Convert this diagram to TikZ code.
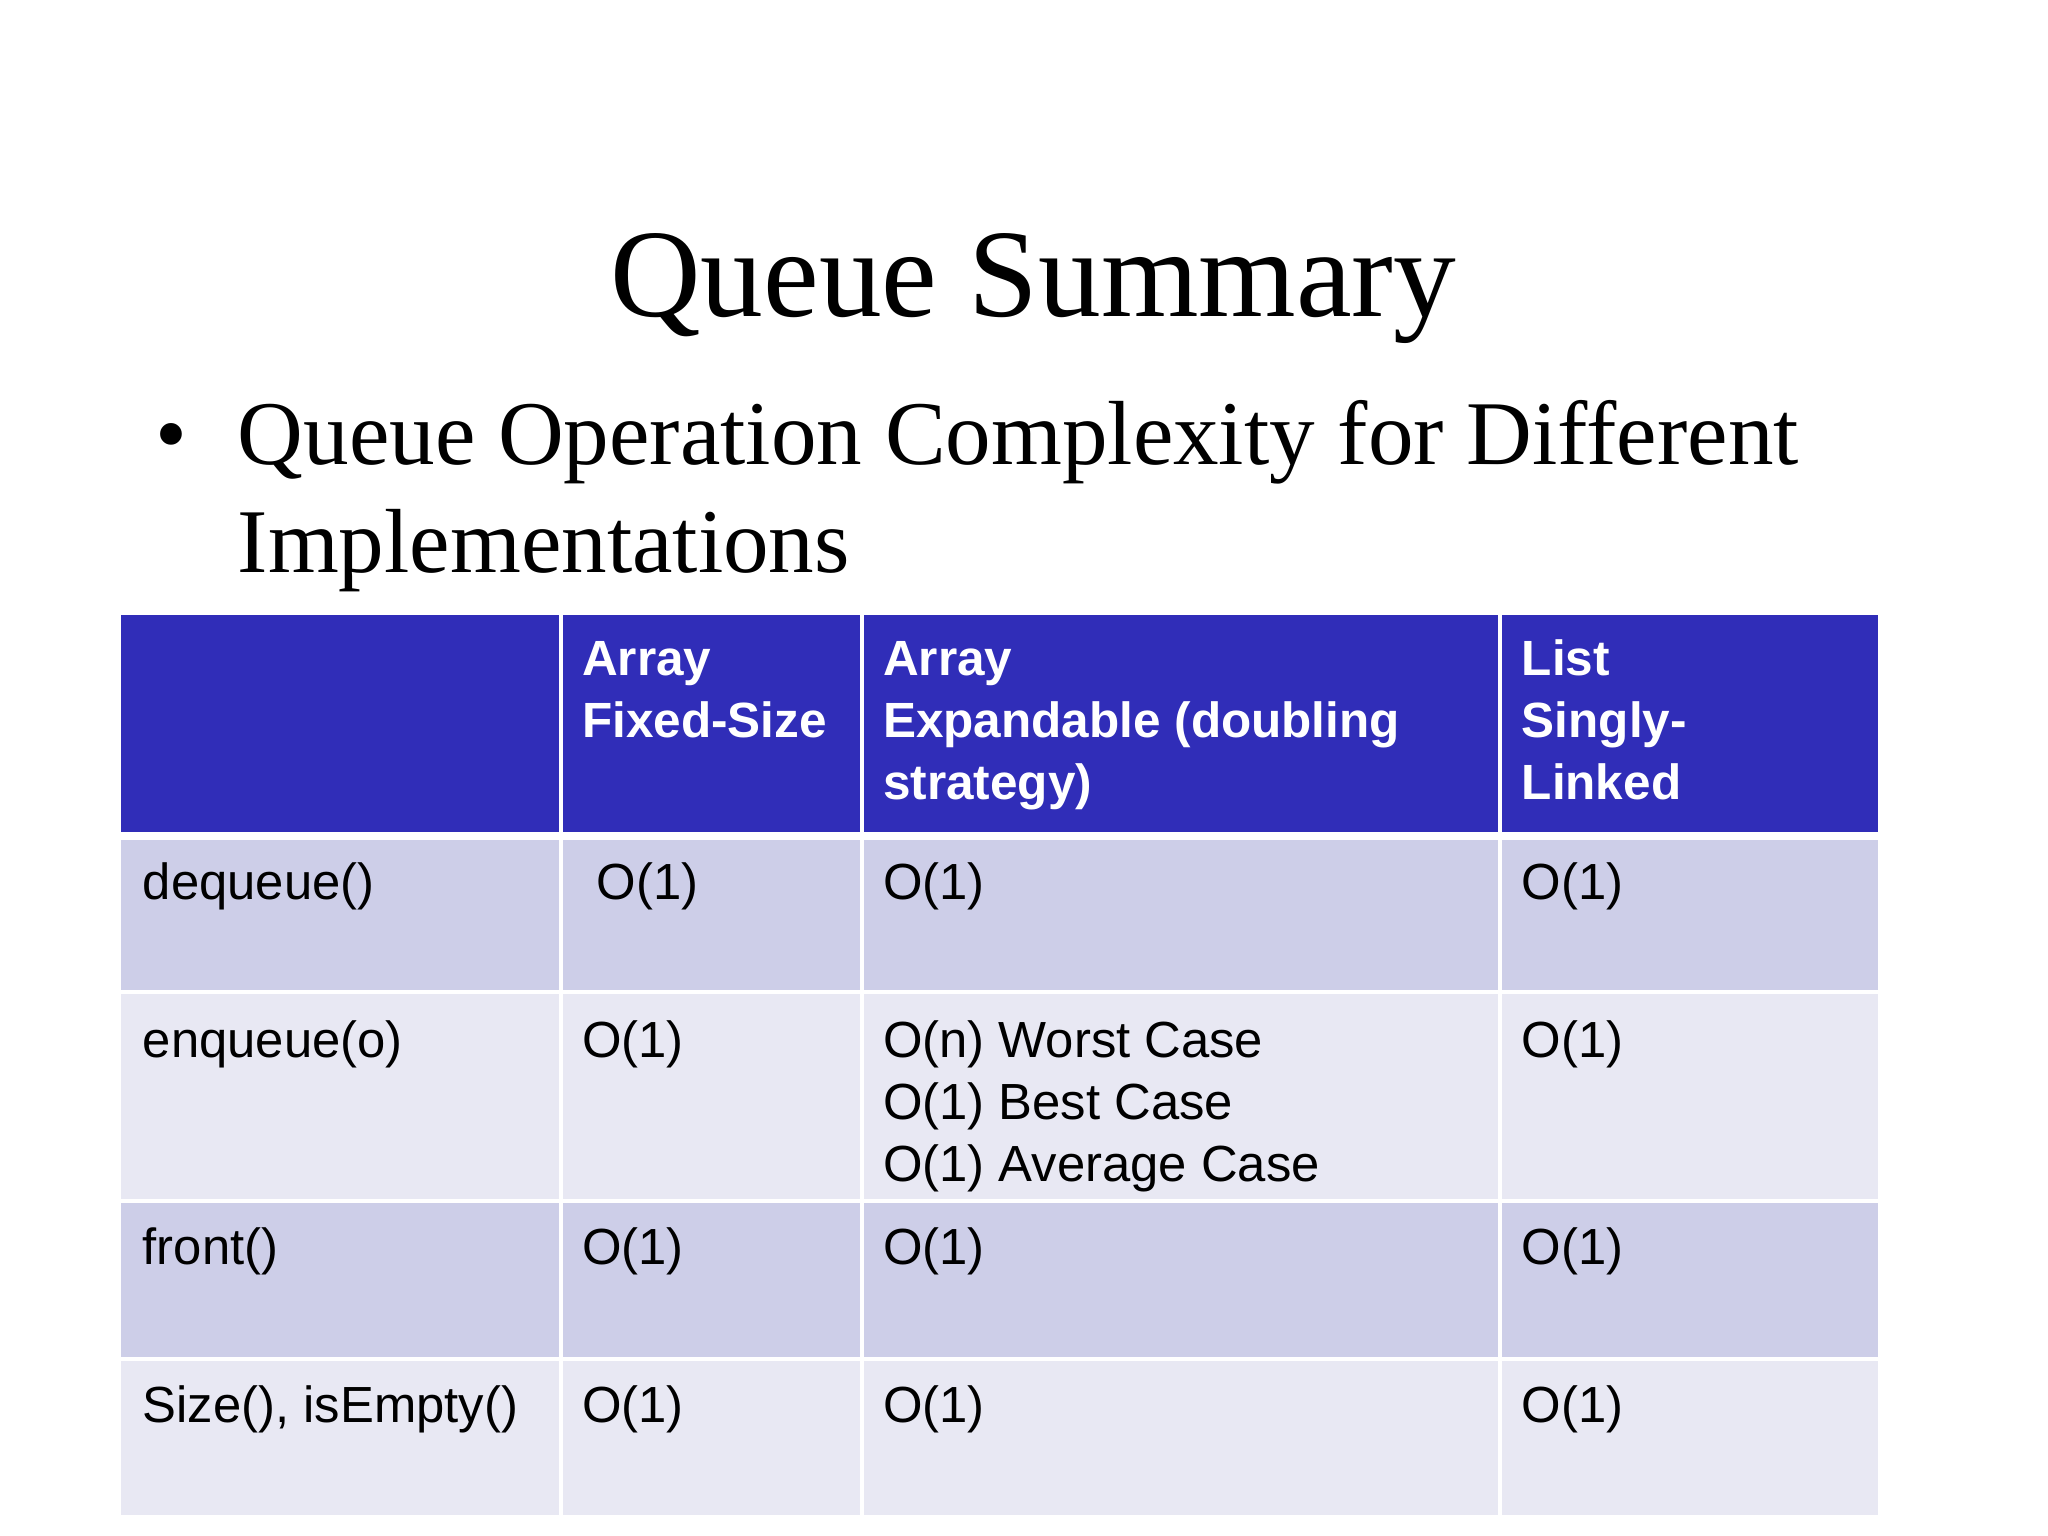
\documentclass[tikz,border=0pt]{standalone}
\usepackage{fontspec}
\setmainfont{Liberation Serif}
\newfontfamily\tabfont{Liberation Sans}
\definecolor{hdr}{HTML}{302DB8}
\definecolor{rowd}{HTML}{CDCEE8}
\definecolor{rowl}{HTML}{E8E8F3}
\newcommand{\tl}[1]{\begin{tabular}[t]{@{}l@{}}#1\end{tabular}}
\begin{document}
\begin{tikzpicture}[x=1pt,y=-1pt,
  cell/.style={anchor=base west,inner sep=0pt,font=\tabfont\fontsize{38.5}{47}\selectfont},
  hcell/.style={cell,text=white,font=\tabfont\bfseries\fontsize{37.5}{47}\selectfont}]
\useasboundingbox[fill=white] (0,0) rectangle (1552,1164);
\node[anchor=base,inner sep=0pt,font=\fontsize{95}{95}\selectfont] (title) at (783,240) {Queue Summary};
\node[anchor=base west,inner sep=0pt,font=\fontsize{69}{82}\selectfont] (bul) at (118,352) {•};
\node[anchor=base west,inner sep=0pt,font=\fontsize{69}{82}\selectfont] (sub) at (180,352) {\begin{tabular}[t]{@{}l@{}}Queue Operation Complexity for Different\\Implementations\end{tabular}};
% backgrounds
\fill[hdr] (92,466) rectangle (1423,632);
\fill[rowd] (92,632) rectangle (1423,752);
\fill[rowl] (92,752) rectangle (1423,910);
\fill[rowd] (92,910) rectangle (1423,1030);
\fill[rowl] (92,1030) rectangle (1423,1148);
\foreach \x in {425,653,1137} \draw[white,line width=3pt] (\x,466) -- (\x,1148);
\foreach \y in {632,752,910,1030} \draw[white,line width=3pt] (92,\y) -- (1423,\y);
\draw[white,line width=5pt] (92,634) -- (1423,634);
% header
\node[hcell] (h1) at (441,512) {\tl{Array\\Fixed-Size}};
\node[hcell] (h2) at (669,512) {\tl{Array\\Expandable (doubling\\strategy)}};
\node[hcell] (h3) at (1153,512) {\tl{List\\Singly-\\Linked}};
% rows
\node[cell] (r1a) at (108,682) {dequeue()};
\node[cell] (r1b) at (452,682) {O(1)};
\node[cell] (r1c) at (669,682) {O(1)};
\node[cell] (r1d) at (1153,682) {O(1)};
\node[cell] (r2a) at (108,801) {enqueue(o)};
\node[cell] (r2b) at (441,801) {O(1)};
\node[cell] (r2c) at (669,801) {\tl{O(n) Worst Case\\O(1) Best Case\\O(1) Average Case}};
\node[cell] (r2d) at (1153,801) {O(1)};
\node[cell] (r3a) at (108,958) {front()};
\node[cell] (r3b) at (441,958) {O(1)};
\node[cell] (r3c) at (669,958) {O(1)};
\node[cell] (r3d) at (1153,958) {O(1)};
\node[cell] (r4a) at (108,1078) {Size(), isEmpty()};
\node[cell] (r4b) at (441,1078) {O(1)};
\node[cell] (r4c) at (669,1078) {O(1)};
\node[cell] (r4d) at (1153,1078) {O(1)};
\end{tikzpicture}
\end{document}
